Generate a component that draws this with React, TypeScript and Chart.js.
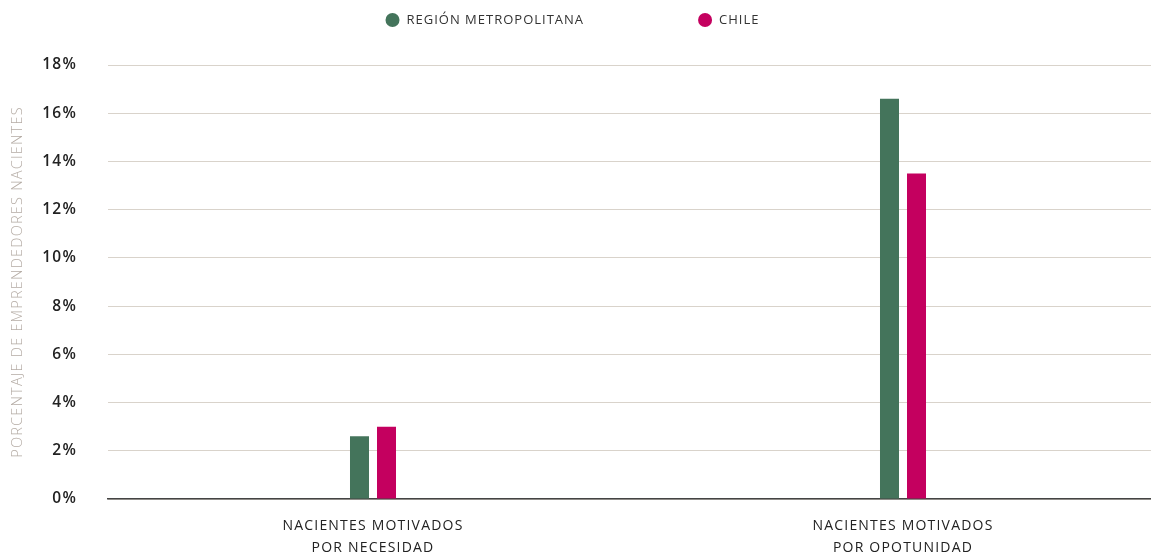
import React, { useEffect, useRef } from "react";
import { Chart, registerables } from "chart.js";

Chart.register(...registerables);

const categories: string[][] = [
  ["NACIENTES MOTIVADOS", "POR NECESIDAD"],
  ["NACIENTES MOTIVADOS", "POR OPOTUNIDAD"],
];
const seriesNames: string[] = ["REGIÓN METROPOLITANA", "CHILE"];
const regionMetropolitana: number[] = [2.6, 16.6];
const chile: number[] = [3.0, 13.5];
const seriesColors: string[] = ["#44745b", "#c4005f"];
const yTicks: number[] = [0, 2, 4, 6, 8, 10, 12, 14, 16, 18];

const FONT = "'Open Sans', 'Noto Sans', sans-serif";
const VISIBLE_W = 1151;
const CANVAS_W = 1168;
const H = 558;
const SPACING = "1.2px";

const spacingPlugin = {
  id: "letterSpacing",
  beforeUpdate(chart: any) {
    chart.ctx.letterSpacing = SPACING;
  },
  beforeDraw(chart: any) {
    chart.ctx.letterSpacing = SPACING;
  },
};

const legendPlugin = {
  id: "customLegend",
  afterDraw(chart: any) {
    const ctx = chart.ctx;
    const datasets = chart.data.datasets;
    ctx.save();
    ctx.letterSpacing = "1px";
    ctx.font = `400 13px ${FONT}`;
    ctx.textBaseline = "middle";
    const r = 7;
    const gapText = 7;
    const gapItems = 114;
    const widths = datasets.map((d: any) => r * 2 + gapText + ctx.measureText(d.label).width);
    const total = widths.reduce((a: number, b: number) => a + b, 0) + gapItems * (datasets.length - 1);
    let x = (VISIBLE_W - total) / 2 - 3;
    const y = 20;
    datasets.forEach((d: any, i: number) => {
      ctx.fillStyle = d.backgroundColor;
      ctx.beginPath();
      ctx.arc(x + r, y, r, 0, Math.PI * 2);
      ctx.fill();
      ctx.fillStyle = "#333333";
      ctx.textAlign = "left";
      ctx.fillText(d.label, x + r * 2 + gapText, y);
      x += widths[i] + gapItems;
    });
    ctx.restore();
  },
};

export default function App() {
  const canvasRef = useRef<HTMLCanvasElement | null>(null);

  useEffect(() => {
    document.body.style.margin = "0";
    const canvas = canvasRef.current;
    if (!canvas) return;
    const chart = new Chart(canvas, {
      type: "bar",
      data: {
        labels: categories,
        datasets: [
          {
            label: seriesNames[0],
            data: regionMetropolitana,
            backgroundColor: seriesColors[0],
            categoryPercentage: 0.1019,
            barPercentage: 0.7037,
          },
          {
            label: seriesNames[1],
            data: chile,
            backgroundColor: seriesColors[1],
            categoryPercentage: 0.1019,
            barPercentage: 0.7037,
          },
        ],
      },
      options: {
        animation: false,
        responsive: false,
        maintainAspectRatio: false,
        layout: { padding: { top: 65, right: 0, bottom: 0, left: 0 } },
        plugins: {
          legend: { display: false },
          tooltip: { enabled: false },
        },
        scales: {
          x: {
            afterFit: (scale: any) => {
              scale.height = 59;
            },
            grid: { display: false, drawTicks: false },
            border: { display: true, color: "#444444", width: 1.5 },
            ticks: {
              color: "#222222",
              font: { family: FONT, size: 14, weight: "400", lineHeight: 1.571 },
              padding: 16,
              maxRotation: 0,
            },
          },
          y: {
            min: 0,
            max: 18,
            afterBuildTicks: (scale: any) => {
              scale.ticks = yTicks.map((v) => ({ value: v }));
            },
            afterFit: (scale: any) => {
              scale.width = 108;
            },
            grid: { color: "#d9d3cb", lineWidth: 1, drawTicks: false },
            border: { display: false },
            ticks: {
              color: "#222222",
              font: { family: FONT, size: 15.5, weight: "600" },
              padding: 31,
              callback: (v: any) => `${v}%`,
            },
            title: {
              display: true,
              text: "PORCENTAJE DE EMPRENDEDORES NACIENTES",
              color: "#b5aca5",
              font: { family: FONT, size: 14.5, weight: "300" },
              padding: { top: 9, bottom: 0 },
            },
          },
        },
      },
      plugins: [spacingPlugin, legendPlugin],
    });
    return () => chart.destroy();
  }, []);

  return (
    <div style={{ width: VISIBLE_W, height: H, overflow: "hidden" }}>
      <canvas ref={canvasRef} width={CANVAS_W} height={H} style={{ display: "block" }} />
    </div>
  );
}
